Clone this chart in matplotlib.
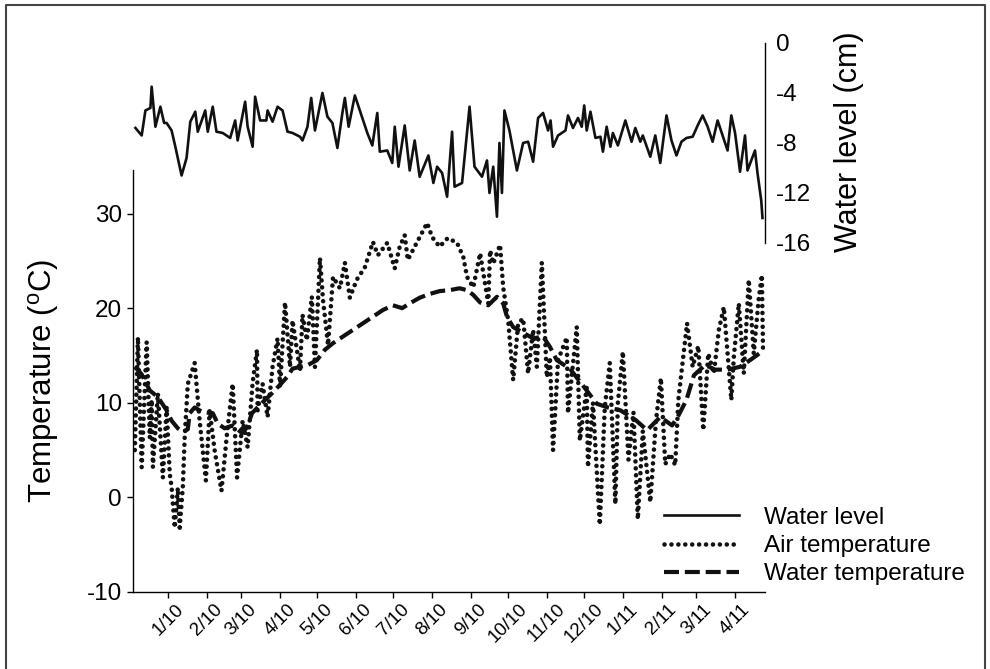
import numpy as np
import matplotlib
matplotlib.use('Agg')
from matplotlib import pyplot as plt
from matplotlib.lines import Line2D

plt.rcParams['font.family'] = ['Liberation Sans', 'DejaVu Sans']
plt.rcParams['mathtext.fontset'] = 'custom'
plt.rcParams['mathtext.rm'] = 'Liberation Sans'
plt.rcParams['axes.unicode_minus'] = False

# x values are days counted from 1 Jan 2010
level_day = [-26, -21, -18, -14, -13, -10, -6, -3, -1, 3,
             6, 11, 15, 18, 22, 24, 30, 32, 36, 39,
             44, 50, 54, 56, 62, 64, 68, 70, 74, 79,
             80, 84, 88, 92, 96, 100, 106, 108, 112, 115,
             118, 124, 128, 132, 136, 140, 142, 145, 150, 154,
             160, 164, 168, 170, 176, 180, 182, 185, 190, 194,
             198, 202, 209, 213, 216, 220, 224, 228, 230, 236,
             242, 246, 252, 256, 258, 261, 264, 266, 268, 270,
             274, 280, 285, 289, 293, 297, 301, 305, 307, 309,
             313, 319, 321, 325, 329, 332, 334, 336, 339, 343,
             347, 349, 352, 355, 357, 361, 367, 372, 375, 379,
             381, 387, 391, 395, 400, 404, 408, 412, 416, 421,
             425, 429, 433, 437, 441, 445, 449, 452, 455, 459,
             463, 465, 471, 473, 476, 477]
level_cm = [-6.8, -7.4, -5.4, -5.2, -3.5, -6.7, -5.1, -6.4, -6.4, -7.0,
            -8.3, -10.6, -9.2, -6.3, -5.5, -7.1, -5.4, -7.1, -5.1, -7.1,
            -7.2, -7.6, -6.2, -7.8, -4.7, -6.7, -8.3, -4.3, -6.2, -6.2,
            -5.4, -6.3, -5.1, -5.4, -7.1, -7.2, -7.5, -7.8, -6.7, -4.4,
            -7.0, -4.0, -5.9, -6.4, -8.4, -5.6, -4.4, -6.7, -4.2, -5.4,
            -7.2, -8.2, -5.6, -8.7, -8.6, -9.6, -6.7, -9.9, -6.6, -10.2,
            -7.8, -10.7, -9.0, -11.2, -9.9, -10.4, -12.3, -7.1, -11.5, -11.2,
            -5.1, -9.9, -10.7, -9.4, -12.0, -9.9, -13.9, -8.0, -12.0, -5.4,
            -7.0, -10.2, -8.0, -7.9, -9.5, -6.0, -5.6, -7.0, -6.2, -8.3,
            -7.4, -7.0, -5.8, -6.8, -6.0, -6.7, -5.0, -7.0, -5.5, -7.6,
            -7.5, -8.7, -6.7, -8.3, -7.2, -8.2, -6.2, -7.9, -6.8, -7.9,
            -7.4, -9.1, -7.4, -9.6, -5.8, -7.8, -9.0, -7.9, -7.6, -7.5,
            -6.6, -5.8, -6.7, -7.9, -6.2, -7.4, -8.6, -5.8, -7.2, -10.3,
            -7.4, -10.2, -8.6, -10.4, -12.6, -14.0]

air_day = [-26.5, -24, -21, -17, -14.5, -13, -12, -8, -4, -1,
           1.5, 3, 5.5, 8, 9.5, 12, 13.5, 16, 21.5, 25.5,
           30.5, 33.5, 37.5, 43, 47.5, 52, 55.5, 60, 64, 68,
           71.5, 72, 76, 80, 84, 88, 90, 94, 98, 100,
           106, 108, 111.5, 115.5, 118, 122, 124.5, 128.5, 132.5, 138,
           142, 146, 151.5, 158, 164.5, 168.5, 176, 182, 186, 190,
           192.5, 198, 204, 208, 212, 218, 224.5, 232, 237, 240,
           245, 250.5, 257, 258.5, 261, 266.5, 269, 273, 277, 281,
           285, 289, 293, 296, 300, 304, 306.5, 309, 313, 320,
           321, 328, 330.5, 336, 337, 341, 346.5, 350.5, 354.5, 359,
           361, 365, 369.5, 373.5, 377, 381, 387, 391.5, 395.5, 399,
           403, 407, 409.5, 416.5, 421, 425.5, 429.5, 433.5, 438, 442,
           446, 452, 454, 458, 462, 466, 470, 474, 476.5, 477.5]
air_temp = [5.0, 16.9, 3.2, 16.4, 6.3, 10.3, 3.2, 11.0, 2.1, 9.5,
            2.5, 1.1, -3.2, 1.0, -3.2, 1.1, 6.3, 12.0, 14.2, 8.1,
            1.8, 9.2, 5.0, 0.7, 6.8, 12.0, 2.1, 8.1, 5.3, 12.1,
            15.6, 9.2, 12.0, 8.5, 13.8, 16.8, 11.7, 20.6, 13.8, 18.7,
            13.4, 19.3, 16.6, 21.2, 13.8, 25.3, 20.8, 16.1, 23.3, 22.1,
            24.8, 21.1, 23.0, 24.3, 27.0, 25.6, 26.9, 24.2, 26.5, 27.7,
            25.1, 26.5, 28.0, 29.0, 27.5, 26.5, 27.4, 26.9, 25.4, 23.3,
            22.2, 25.8, 20.5, 26.1, 24.7, 26.7, 22.2, 18.7, 12.4, 18.4,
            18.9, 13.1, 17.7, 13.8, 24.8, 12.7, 14.8, 5.0, 14.5, 16.9,
            8.9, 18.0, 6.0, 11.6, 3.2, 10.0, -2.9, 9.5, 14.2, -0.7,
            10.0, 15.4, 4.0, 9.0, -2.3, 7.0, -0.5, 8.0, 12.6, 3.5,
            4.6, 3.4, 10.3, 18.4, 13.8, 16.0, 7.1, 15.2, 13.1, 17.7,
            20.1, 10.3, 14.8, 20.5, 13.1, 23.0, 15.2, 21.0, 23.5, 15.2]

water_day = [-26.5, -21, -14.5, -8, -1, 3, 8, 12, 16, 17.5,
             21.5, 28, 36, 40, 45.5, 52, 59.5, 63.5, 67.5, 72,
             78, 83.5, 90, 95.5, 100, 106, 112.5, 119.5, 126, 132.5,
             140.5, 148.5, 156.5, 164.5, 172.5, 180.5, 188, 194, 202, 210,
             218, 226, 234, 240, 245, 250.5, 257, 264, 269, 272,
             277, 285, 293, 301, 306.5, 312, 322.5, 336, 344, 353,
             363, 375, 384.5, 395, 404.5, 409, 416, 422, 431, 439,
             449, 459, 467, 477.5]
water_temp = [13.8, 13.0, 11.3, 10.6, 9.2, 8.1, 7.3, 6.9, 7.2, 8.9,
              9.5, 9.0, 8.9, 7.8, 7.3, 7.6, 6.8, 7.4, 8.9, 9.5,
              10.3, 11.0, 11.9, 12.7, 13.6, 13.8, 14.0, 14.5, 15.6, 16.3,
              17.0, 17.7, 18.4, 19.1, 19.8, 20.3, 20.0, 20.5, 21.1, 21.5,
              21.8, 21.9, 22.1, 21.9, 21.4, 20.6, 20.3, 21.2, 20.5, 19.1,
              18.0, 17.4, 16.8, 17.0, 15.9, 14.5, 13.6, 11.3, 9.9, 9.5,
              9.2, 8.2, 7.1, 8.5, 7.6, 8.5, 10.3, 12.9, 14.0, 13.5,
              13.5, 13.8, 14.5, 15.5]

month_labels = ['1/10', '2/10', '3/10', '4/10', '5/10', '6/10', '7/10', '8/10',
                '9/10', '10/10', '11/10', '12/10', '1/11', '2/11', '3/11', '4/11']
months = np.arange(np.datetime64('2010-01'), np.datetime64('2011-05'), dtype='datetime64[M]')
month_day = (months.astype('datetime64[D]') - np.datetime64('2010-01-01')).astype(int)

fig = plt.figure(figsize=(9.9, 6.69), dpi=100)
ax = fig.add_axes([0.1343, 0.1151, 0.6384, 0.6308])
ax2 = fig.add_axes([0.1343, 0.6368, 0.6384, 0.2990])
ax2.patch.set_alpha(0)

air, = ax.plot(air_day, air_temp, color='#111111', lw=3.3,
               linestyle=(0, (0.01, 1.5)), dash_capstyle='round',
               label='Air temperature')
water, = ax.plot(water_day, water_temp, color='#111111', lw=3.0,
                 linestyle=(0, (3.6, 1.4)), label='Water temperature')
level, = ax2.plot(level_day, level_cm, color='#111111', lw=1.9,
                  label='Water level')

ax.set_xlim(-28, 479)
ax.set_ylim(-10, 34.6)
ax.set_yticks([-10, 0, 10, 20, 30])
ax.set_xticks(month_day)
ax.set_xticklabels(month_labels, rotation=45, ha='center', fontsize=13.5)
ax.tick_params(axis='y', labelsize=17.5, length=4, width=1, pad=4)
ax.tick_params(axis='x', length=4.5, width=1, pad=2)
for s in ['top', 'right']:
    ax.spines[s].set_visible(False)
for s in ['left', 'bottom']:
    ax.spines[s].set_linewidth(1)

ax2.set_xlim(-28, 479)
ax2.set_ylim(-16, 0)
ax2.set_yticks([0, -4, -8, -12, -16])
ax2.set_xticks([])
ax2.yaxis.tick_right()
ax2.tick_params(axis='y', labelsize=17.5, length=0, pad=8)
for s in ['top', 'left', 'bottom']:
    ax2.spines[s].set_visible(False)
ax2.spines['right'].set_linewidth(1)

fig.text(44 / 990, 1 - 381 / 669, 'Temperature ($^{\\mathrm{o}}$C)', rotation=90,
         ha='center', va='center', fontsize=22.5)
fig.text(849 / 990, 1 - 142 / 669, 'Water level (cm)', rotation=90,
         ha='center', va='center', fontsize=22)

fig.legend(handles=[level, air, water], loc='center left',
           bbox_to_anchor=(664 / 990, 1 - 546 / 669), frameon=False,
           fontsize=17.5, handlelength=3.1, handletextpad=1.0,
           labelspacing=0.25, borderpad=0, borderaxespad=0)

# scanned frame around the figure
fig.add_artist(Line2D([6 / 990, 6 / 990, 985 / 990, 985 / 990],
                      [0, 1 - 5 / 669, 1 - 5 / 669, 0],
                      transform=fig.transFigure, color='#444444', lw=1.5))

fig.savefig('out.png', dpi=100)
